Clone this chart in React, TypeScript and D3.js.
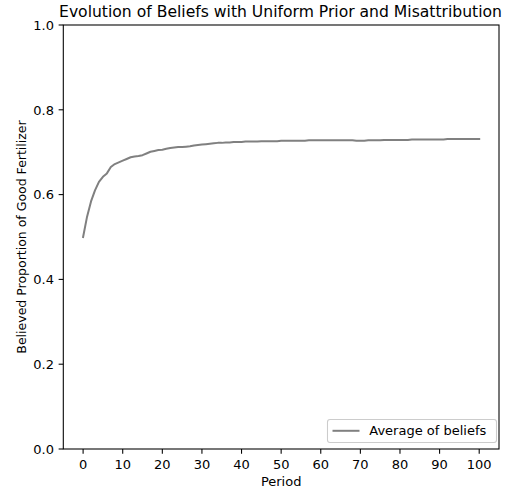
import React from "react";
import * as d3 from "d3";

// Average belief per period (periods 0..100)
const beliefs: number[] = [
  0.5, 0.548, 0.584, 0.61, 0.63, 0.642, 0.65, 0.665, 0.672, 0.676,
  0.68, 0.684, 0.688, 0.69, 0.691, 0.693, 0.697, 0.701, 0.703, 0.705,
  0.706, 0.708, 0.71, 0.711, 0.712, 0.712, 0.713, 0.714, 0.716, 0.717,
  0.718, 0.719, 0.72, 0.721, 0.722, 0.722, 0.723, 0.723, 0.724, 0.724,
  0.724, 0.725, 0.725, 0.725, 0.725, 0.726, 0.726, 0.726, 0.726, 0.726,
  0.727, 0.727, 0.727, 0.727, 0.727, 0.727, 0.727, 0.728, 0.728, 0.728,
  0.728, 0.728, 0.728, 0.728, 0.728, 0.728, 0.728, 0.728, 0.728, 0.727,
  0.727, 0.727, 0.728, 0.728, 0.728, 0.728, 0.729, 0.729, 0.729, 0.729,
  0.729, 0.729, 0.729, 0.73, 0.73, 0.73, 0.73, 0.73, 0.73, 0.73,
  0.73, 0.73, 0.731, 0.731, 0.731, 0.731, 0.731, 0.731, 0.731, 0.731,
  0.731,
];
const periods: number[] = beliefs.map((_, i) => i);

const xTicks: number[] = [0, 10, 20, 30, 40, 50, 60, 70, 80, 90, 100];
const yTicks: number[] = [0, 0.2, 0.4, 0.6, 0.8, 1.0];

const W = 505;
const H = 491;
const left = 63.3;
const right = 499;
const top = 25;
const bottom = 449;
const font = "'DejaVu Sans', sans-serif";
const tickFs = 13;
const tickLen = 4.67;

export default function App() {
  const x = d3.scaleLinear().domain([-5, 105]).range([left, right]);
  const y = d3.scaleLinear().domain([0, 1]).range([bottom, top]);
  const line = d3
    .line<number>()
    .x((_, i) => x(periods[i]))
    .y((d) => y(d));

  return (
    <svg
      width={W}
      height={H}
      style={{ position: "absolute", left: 0, top: 0, background: "#fff" }}
      fontFamily={font}
    >
      <rect x={0} y={0} width={W} height={H} fill="#fff" />
      <text x={280.5} y={16.7} fontSize={15.6} textAnchor="middle" fill="#000">
        Evolution of Beliefs with Uniform Prior and Misattribution
      </text>

      <path
        d={line(beliefs) ?? ""}
        fill="none"
        stroke="#808080"
        strokeWidth={2}
        strokeLinejoin="round"
        strokeLinecap="square"
      />

      {/* frame */}
      <rect
        x={left}
        y={top}
        width={right - left}
        height={bottom - top}
        fill="none"
        stroke="#000"
        strokeWidth={1.07}
      />

      {/* x axis */}
      {xTicks.map((t) => (
        <g key={`x${t}`}>
          <line x1={x(t)} x2={x(t)} y1={bottom} y2={bottom + tickLen} stroke="#000" strokeWidth={1.07} />
          <text x={x(t)} y={469} fontSize={tickFs} textAnchor="middle" fill="#000">
            {t}
          </text>
        </g>
      ))}
      <text x={(left + right) / 2} y={486} fontSize={tickFs} textAnchor="middle" fill="#000">
        Period
      </text>

      {/* y axis */}
      {yTicks.map((t) => (
        <g key={`y${t}`}>
          <line x1={left - tickLen} x2={left} y1={y(t)} y2={y(t)} stroke="#000" strokeWidth={1.07} />
          <text x={left - tickLen - 4.67} y={y(t) + 4.7} fontSize={tickFs} textAnchor="end" fill="#000">
            {t.toFixed(1)}
          </text>
        </g>
      ))}
      <text
        transform={`translate(26,${(top + bottom) / 2}) rotate(-90)`}
        fontSize={12.5}
        textAnchor="middle"
        fill="#000"
      >
        Believed Proportion of Good Fertilizer
      </text>

      {/* legend */}
      <g>
        <rect
          x={327.5}
          y={419.5}
          width={169}
          height={23}
          rx={2.5}
          fill="#fff"
          fillOpacity={0.8}
          stroke="#ccc"
          strokeWidth={1.07}
        />
        <line x1={332.5} x2={359.5} y1={430.8} y2={430.8} stroke="#808080" strokeWidth={2} />
        <text x={369.3} y={435.2} fontSize={tickFs} fill="#000">
          Average of beliefs
        </text>
      </g>
    </svg>
  );
}
